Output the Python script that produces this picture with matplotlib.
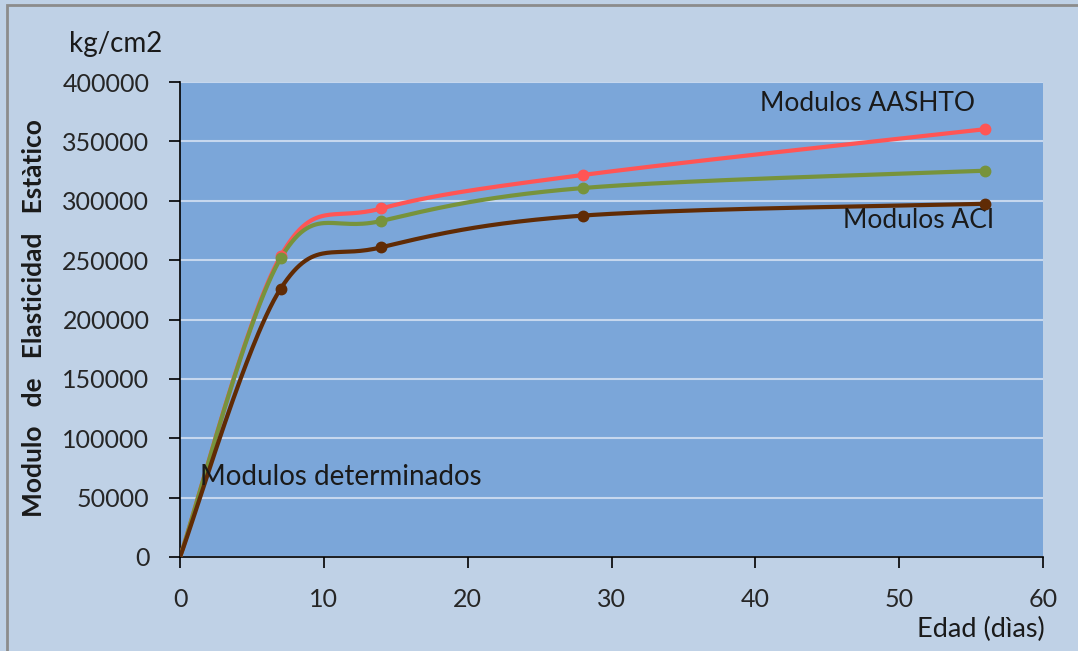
import numpy as np
import matplotlib
matplotlib.use("Agg")
import matplotlib.pyplot as plt
from matplotlib.patches import Rectangle

# ages (days) and modulus values (kg/cm2)
edad = [0, 7, 14, 28, 56]
mod_aashto = [0, 253500, 293500, 321700, 360300]
mod_determinados = [0, 251500, 283000, 310700, 325300]
mod_aci = [0, 226000, 260800, 287500, 297500]

series = [
    (mod_aashto, "#FF5555"),
    (mod_determinados, "#77933C"),
    (mod_aci, "#602B05"),
]


# smoothed curve through points (catmull-rom as bezier segments)
def smooth(xs, ys, n=60):
    p = np.column_stack([xs, ys]).astype(float)
    p = np.vstack([p[0], p, p[-1]])
    out = []
    t = np.linspace(0, 1, n)[:, None]
    for i in range(1, len(p) - 2):
        p0, p1, p2, p3 = p[i - 1], p[i], p[i + 1], p[i + 2]
        c1 = p1 + (p2 - p0) / 6
        c2 = p2 - (p3 - p1) / 6
        seg = ((1 - t) ** 3) * p1 + 3 * ((1 - t) ** 2) * t * c1 \
            + 3 * (1 - t) * t ** 2 * c2 + t ** 3 * p2
        out.append(seg if i == 1 else seg[1:])
    seg = np.vstack(out)
    return seg[:, 0], seg[:, 1]


plt.rcParams['font.family'] = ['Lato', 'DejaVu Sans']

fig = plt.figure(figsize=(10.78, 6.51), dpi=100)
fig.patch.set_facecolor("#BFD1E6")
fig.patches.append(Rectangle((7 / 1078, -0.1), 1.2, 1.1 - 5 / 651, transform=fig.transFigure,
                             fill=False, edgecolor="#8C8C8C", linewidth=2))

ax = fig.add_axes([180 / 1078, 94 / 651, 863 / 1078, 475 / 651])
ax.set_facecolor("#7BA6D9")

for vals, col in series:
    sx, sy = smooth(edad, vals)
    ax.plot(sx, sy, color=col, linewidth=3, solid_capstyle="round", zorder=3)
    ax.plot(edad[1:], vals[1:], "o", color=col, markersize=7.5, zorder=4)

ax.set_xlim(0, 60)
ax.set_ylim(0, 400000)
ax.set_xticks(range(0, 61, 10))
ax.set_yticks(range(0, 400001, 50000))
ax.yaxis.grid(True, color="#C6D7EE", linewidth=1.5)
ax.set_axisbelow(True)
for s in ["top", "right"]:
    ax.spines[s].set_visible(False)
for s in ["left", "bottom"]:
    ax.spines[s].set_color("black")
    ax.spines[s].set_linewidth(1.2)
ax.tick_params(direction="out", length=8, width=1.2, labelsize=18, colors="black",
               labelcolor="#262626", pad=14)

ax.text(40.3, 382000, "Modulos AASHTO", fontsize=19, color="#1A1A1A", va="center")
ax.text(46.1, 283000, "Modulos ACI", fontsize=19, color="#1A1A1A", va="center")
ax.text(1.4, 67500, "Modulos determinados", fontsize=20, color="#1A1A1A", va="center")

fig.text(69 / 1078, 1 - 44 / 651, "kg/cm2", fontsize=20, color="#1A1A1A", va="center")
fig.text(34 / 1078, 1 - 318 / 651, "Modulo   de   Elasticidad   Estàtico", fontsize=19,
         fontweight="bold", rotation=90, color="#1A1A1A", va="center", ha="center")
fig.text(1045 / 1078, 1 - 629 / 651, "Edad (dìas)", fontsize=19.5, color="#1A1A1A",
         va="center", ha="right")

fig.savefig("out.png", dpi=100, facecolor=fig.get_facecolor())
